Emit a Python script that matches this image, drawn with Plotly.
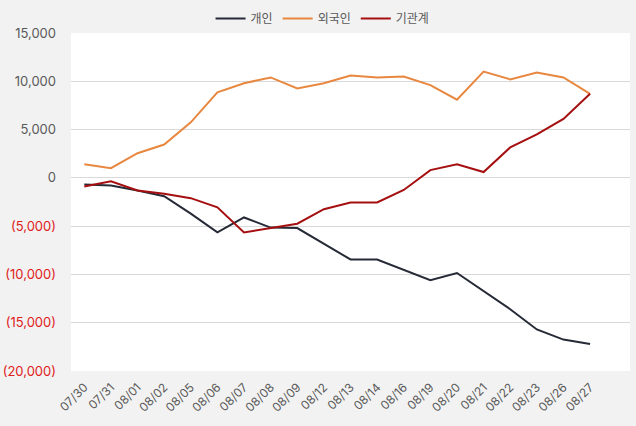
import plotly.graph_objects as go

dates = ["07/30", "07/31", "08/01", "08/02", "08/05", "08/06", "08/07", "08/08", "08/09", "08/12",
         "08/13", "08/14", "08/16", "08/19", "08/20", "08/21", "08/22", "08/23", "08/26", "08/27"]
individual = [-700, -800, -1300, -1900, -3700, -5650, -4100, -5150, -5200, -6850,
              -8450, -8450, -9500, -10600, -9850, -11750, -13600, -15700, -16750, -17200]
foreign = [1400, 1000, 2550, 3450, 5750, 8850, 9800, 10400, 9250, 9800,
           10600, 10400, 10500, 9600, 8100, 11000, 10200, 10900, 10400, 8700]
institution = [-900, -350, -1300, -1650, -2100, -3050, -5650, -5200, -4750, -3250,
               -2550, -2550, -1250, 800, 1400, 600, 3150, 4500, 6100, 8700]
names = ["개인", "외국인", "기관계"]
colors = ["#252a36", "#e8873f", "#a50f10"]

ytick_vals = [15000, 10000, 5000, 0, -5000, -10000, -15000, -20000]


def fmt(v):
    if v < 0:
        return '<span style="color:#e02020">({:,})</span>'.format(-v)
    return "{:,}".format(v)


ytick_text = [fmt(v) for v in ytick_vals]

fig = go.Figure()
for name, vals, c in zip(names, [individual, foreign, institution], colors):
    fig.add_trace(go.Scatter(x=dates, y=vals, mode="lines", name=name,
                             line=dict(color=c, width=2)))

fig.update_layout(
    width=636, height=426,
    margin=dict(l=71, r=6, t=33, b=55, autoexpand=False),
    paper_bgcolor="#f2f2f2",
    plot_bgcolor="#ffffff",
    font=dict(family="Inter, Noto Sans CJK KR, sans-serif", size=12, color="#595959"),
    legend=dict(orientation="h", x=0.45, xanchor="center", y=1.0, yanchor="bottom",
                font=dict(size=12, color="#595959",
                          family="Noto Sans CJK KR, Inter, sans-serif"),
                bgcolor="rgba(0,0,0,0)", itemwidth=30),
    showlegend=True,
)
fig.update_xaxes(type="category", range=[-0.5, 20.5], tickangle=-45, showgrid=False,
                 showline=False, zeroline=False, ticks="", ticklabelstandoff=6,
                 tickfont=dict(size=12, color="#595959"))
fig.update_yaxes(range=[-20000, 15000], tickvals=ytick_vals, ticktext=ytick_text,
                 showgrid=True, gridcolor="#d9d9d9", gridwidth=1, zeroline=False,
                 showline=False, ticks="", ticklabelstandoff=14,
                 tickfont=dict(size=13, color="#595959"))

fig.write_html("out.html")
